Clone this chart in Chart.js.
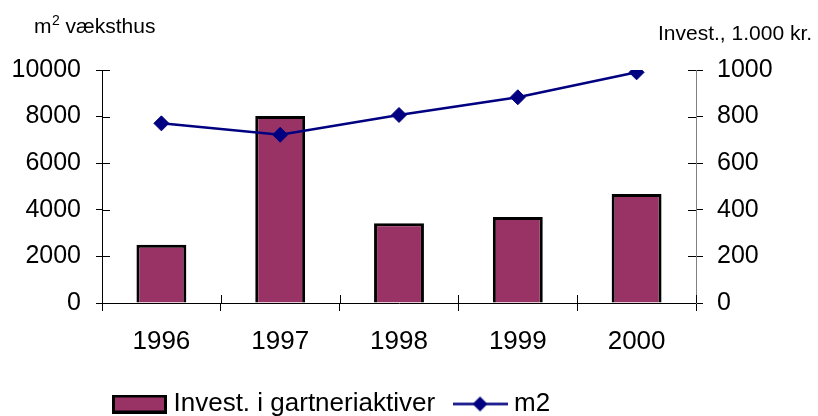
<!DOCTYPE html>
<html><head><meta charset="utf-8">
<script src="https://cdn.jsdelivr.net/npm/chart.js@4/dist/chart.umd.min.js"></script>
<style>html,body{margin:0;padding:0;background:#fff;}canvas{display:block;}</style>
</head><body>
<canvas id="c" width="818" height="416"></canvas>
<script>
// ---- data ----
const categories = ['1996', '1997', '1998', '1999', '2000'];
const investValues = [250, 803, 342, 369, 468];      // right axis, 1.000 kr.
const m2Values = [7710, 7220, 8070, 8830, 9900];     // left axis, m2 væksthus
const leftTicks = [0, 2000, 4000, 6000, 8000, 10000];
const rightTicks = [0, 200, 400, 600, 800, 1000];
const seriesNames = ['Invest. i gartneriaktiver', 'm2'];
const leftTitleBase = 'm';
const leftTitleSup = '2';
const leftTitleRest = ' væksthus';
const rightTitle = 'Invest., 1.000 kr.';

const FONT = "'Liberation Sans', Arial, sans-serif";
const BAR_COLOR = '#993366';
const LINE_COLOR = '#000080';

function makeSwatch() {
  const c = document.createElement('canvas'); c.width = 55; c.height = 19;
  const g = c.getContext('2d');
  g.fillStyle = BAR_COLOR; g.fillRect(0, 0, 55, 19);
  g.strokeStyle = '#000'; g.lineWidth = 3; g.strokeRect(1.5, 1.5, 52, 16);
  return c;
}
function makeLineIcon() {
  const c = document.createElement('canvas'); c.width = 55; c.height = 19;
  const g = c.getContext('2d');
  g.strokeStyle = LINE_COLOR; g.lineWidth = 2.5;
  g.beginPath(); g.moveTo(0, 9.5); g.lineTo(55, 9.5); g.stroke();
  g.fillStyle = LINE_COLOR;
  g.beginPath(); g.moveTo(27.5, 2); g.lineTo(35, 9.5); g.lineTo(27.5, 17); g.lineTo(20, 9.5); g.closePath(); g.fill();
  return c;
}
const legendIcons = [makeSwatch(), makeLineIcon()];

const LEG_PAD = 24;
const LEG_FONT = 26;
const layoutPlugin = {
  id: 'layoutFix',
  afterLayout(chart) {
    const L = chart.legend;
    if (!L) return;
    const dx = (118.5 - LEG_PAD) - L.left;
    L.left += dx; L.right += dx;
    const dy = (404 - LEG_PAD - LEG_FONT / 2) - L.top;
    L.top += dy; L.bottom += dy;
  }
};

const innerTicks = {
  id: 'innerTicks',
  afterDraw(chart) {
    const ctx = chart.ctx;
    const y = chart.scales.y, y1 = chart.scales.y1, x = chart.scales.x;
    ctx.save();
    ctx.strokeStyle = '#000'; ctx.lineWidth = 1;
    ctx.beginPath();
    y.ticks.forEach(t => { const p = Math.round(y.getPixelForValue(t.value)) + 0.5; ctx.moveTo(y.right, p); ctx.lineTo(y.right + 8, p); });
    y1.ticks.forEach(t => { const p = Math.round(y1.getPixelForValue(t.value)) + 0.5; ctx.moveTo(y1.left - 8, p); ctx.lineTo(y1.left, p); });
    const half = (x.getPixelForValue(1) - x.getPixelForValue(0)) / 2;
    for (let i = 0; i <= categories.length; i++) {
      const p = Math.round(x.getPixelForValue(i) - half) + 0.5;
      ctx.moveTo(p, x.top - 8); ctx.lineTo(p, x.top);
    }
    ctx.stroke();
    // axis titles
    ctx.fillStyle = '#000';
    ctx.textBaseline = 'alphabetic';
    ctx.textAlign = 'left';
    ctx.font = '21px ' + FONT;
    ctx.fillText(leftTitleBase, 34, 33);
    let xx = 34 + ctx.measureText(leftTitleBase).width;
    ctx.font = '14px ' + FONT;
    ctx.fillText(leftTitleSup, xx + 0.5, 25);
    xx += ctx.measureText(leftTitleSup).width + 0.5;
    ctx.font = '21px ' + FONT;
    ctx.fillText(leftTitleRest, xx, 33);
    ctx.fillText(rightTitle, 658, 40);
    ctx.restore();
  }
};

new Chart(document.getElementById('c'), {
  data: {
    labels: categories,
    datasets: [
      {
        type: 'bar', label: seriesNames[0], data: investValues, yAxisID: 'y1',
        backgroundColor: BAR_COLOR, borderColor: '#000', borderWidth: 3,
        barPercentage: 0.42, categoryPercentage: 1, order: 1
      },
      {
        type: 'line', label: seriesNames[1], data: m2Values, yAxisID: 'y',
        borderColor: LINE_COLOR, backgroundColor: LINE_COLOR, borderWidth: 2.5,
        pointStyle: 'rectRot', pointRadius: 7.5, pointBackgroundColor: LINE_COLOR,
        pointBorderColor: LINE_COLOR, pointBorderWidth: 1, tension: 0, order: 0
      }
    ]
  },
  options: {
    responsive: false, animation: false, devicePixelRatio: 1,
    layout: { padding: { top: 70, left: 0, right: 0, bottom: 0 } },
    scales: {
      x: {
        type: 'category', offset: true,
        grid: { display: true, offset: true, drawOnChartArea: false, drawTicks: true, tickLength: 8, color: '#000' },
        border: { display: true, color: '#000', width: 1 },
        ticks: { color: '#000', font: { family: FONT, size: 26 }, padding: 15, maxRotation: 0 },
        afterFit(s) { s.height = 416 - 303 - (LEG_PAD + LEG_FONT + 10); }
      },
      y: {
        position: 'left', min: 0, max: 10000,
        afterBuildTicks(s) { s.ticks = leftTicks.map(v => ({ value: v })); },
        grid: { display: true, drawOnChartArea: false, drawTicks: true, tickLength: 6, color: '#000' },
        border: { display: true, color: '#000', width: 1 },
        ticks: { color: '#000', font: { family: FONT, size: 25 }, padding: 15, callback: v => String(v) },
        afterFit(s) { s.width = 102; }
      },
      y1: {
        position: 'right', min: 0, max: 1000,
        afterBuildTicks(s) { s.ticks = rightTicks.map(v => ({ value: v })); },
        grid: { display: true, drawOnChartArea: false, drawTicks: true, tickLength: 7, color: '#000' },
        border: { display: true, color: '#808080', width: 1 },
        ticks: { color: '#000', font: { family: FONT, size: 25 }, padding: 14, callback: v => String(v) },
        afterFit(s) { s.width = 122; }
      }
    },
    plugins: {
      title: { display: false },
      tooltip: { enabled: false },
      legend: {
        display: true, position: 'bottom', align: 'start',
        labels: {
          color: '#000', font: { family: FONT, size: LEG_FONT }, padding: LEG_PAD,
          usePointStyle: true, pointStyleWidth: 42,
          sort: (a, b) => a.datasetIndex - b.datasetIndex,
          generateLabels(chart) {
            const items = Chart.defaults.plugins.legend.labels.generateLabels(chart);
            items.forEach(it => { it.pointStyle = legendIcons[it.datasetIndex]; it.lineWidth = 0; });
            return items;
          }
        }
      }
    }
  },
  plugins: [layoutPlugin, innerTicks]
});
</script>
</body></html>
